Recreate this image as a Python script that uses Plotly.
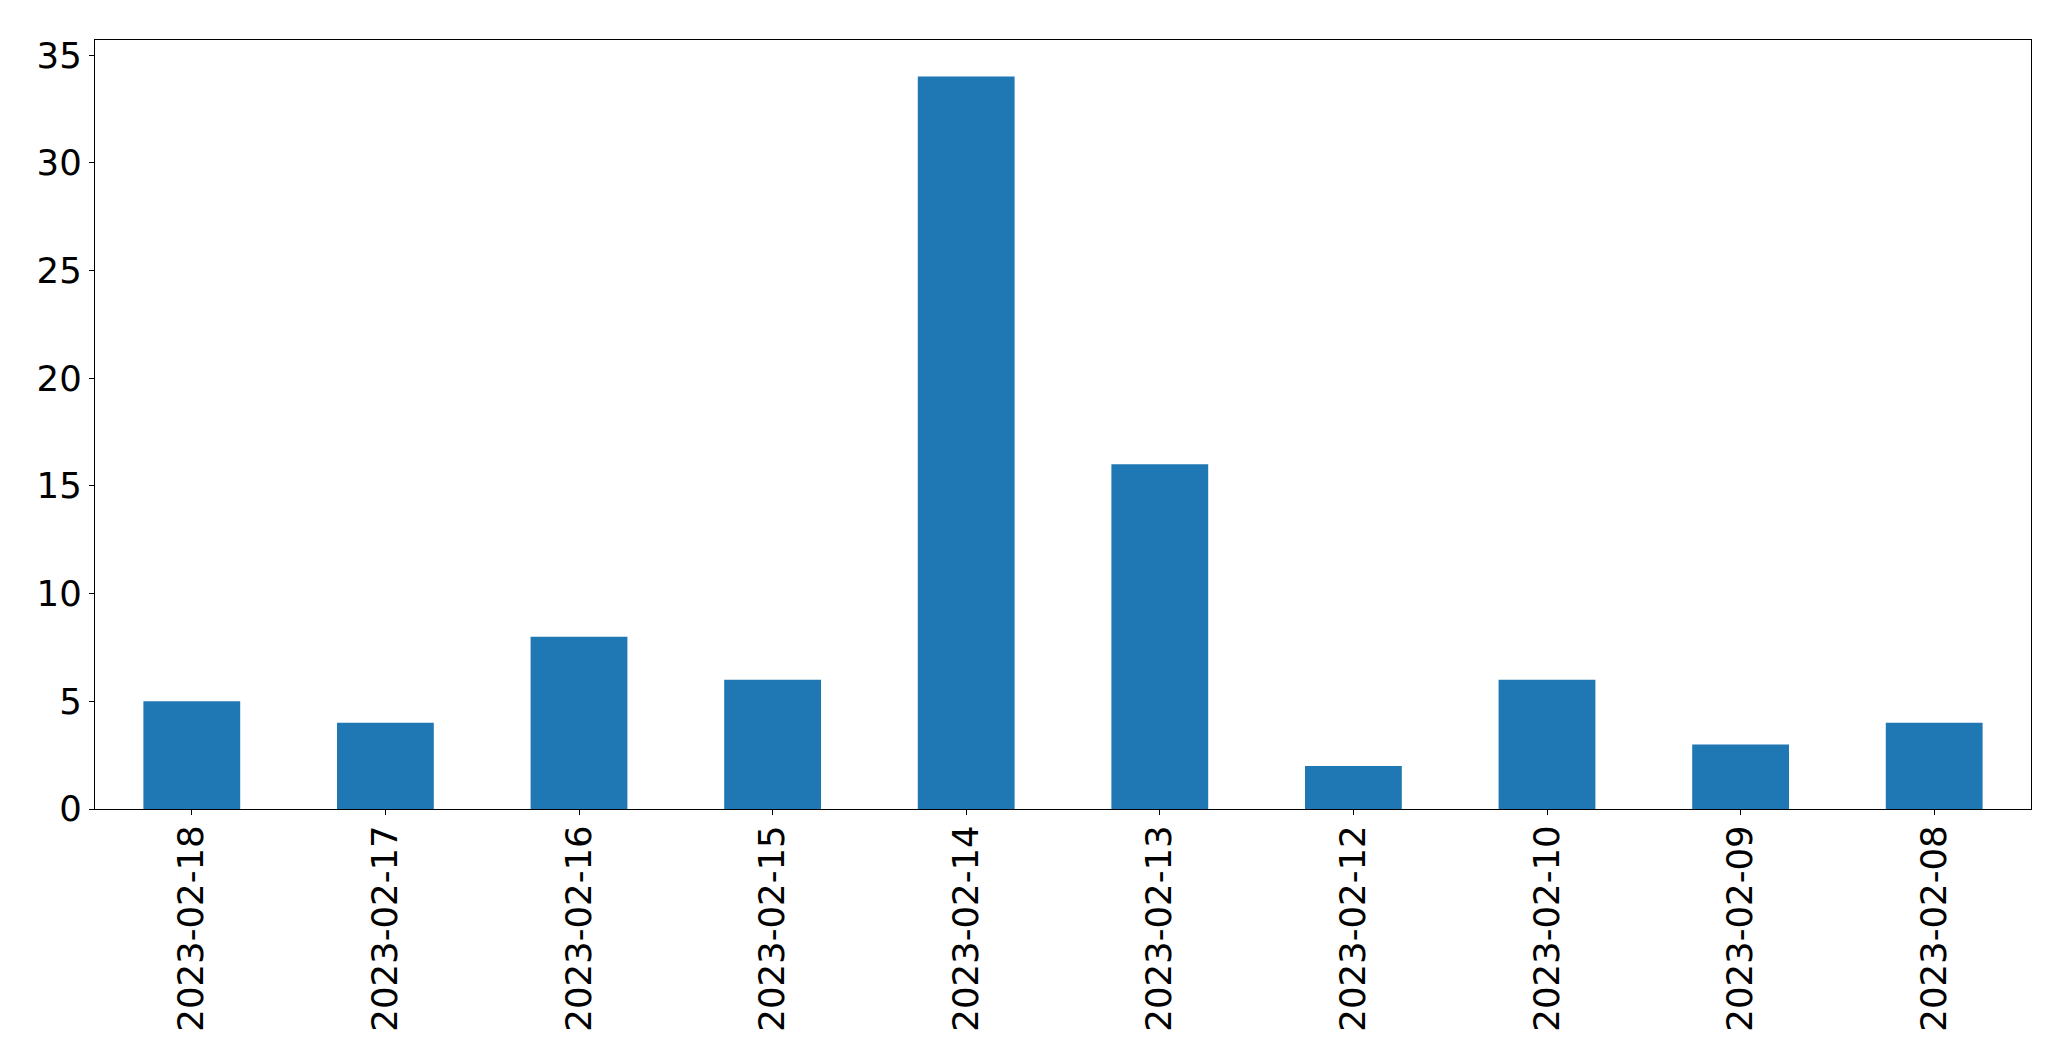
import plotly.graph_objects as go

dates = ["2023-02-18", "2023-02-17", "2023-02-16", "2023-02-15", "2023-02-14",
         "2023-02-13", "2023-02-12", "2023-02-10", "2023-02-09", "2023-02-08"]
counts = [5, 4, 8, 6, 34, 16, 2, 6, 3, 4]
y_ticks = [0, 5, 10, 15, 20, 25, 30, 35]

fig = go.Figure(go.Bar(x=dates, y=counts, width=0.5, marker=dict(color="#1f77b4", line=dict(width=0))))

font = dict(family="DejaVu Sans", size=35.5, color="black")
fig.update_layout(
    width=2055, height=1045,
    margin=dict(l=86.5, r=32, t=31.5, b=244, pad=0),
    plot_bgcolor="white", paper_bgcolor="white",
    showlegend=False,
    font=font,
)
fig.update_xaxes(
    type="category", range=[-0.5, 9.5],
    showline=True, linecolor="black", linewidth=1.3, mirror=True,
    ticks="outside", ticklen=5, tickwidth=1.3, tickcolor="black",
    tickangle=-90, tickfont=font, showgrid=False, zeroline=False,
    ticklabelstandoff=-4,
)
fig.update_yaxes(
    range=[0, 35.7], tickvals=y_ticks,
    showline=True, linecolor="black", linewidth=1.3, mirror=True,
    ticks="outside", ticklen=5, tickwidth=1.3, tickcolor="black",
    tickfont=font, showgrid=False, zeroline=False,
)
fig.write_html("out.html")
